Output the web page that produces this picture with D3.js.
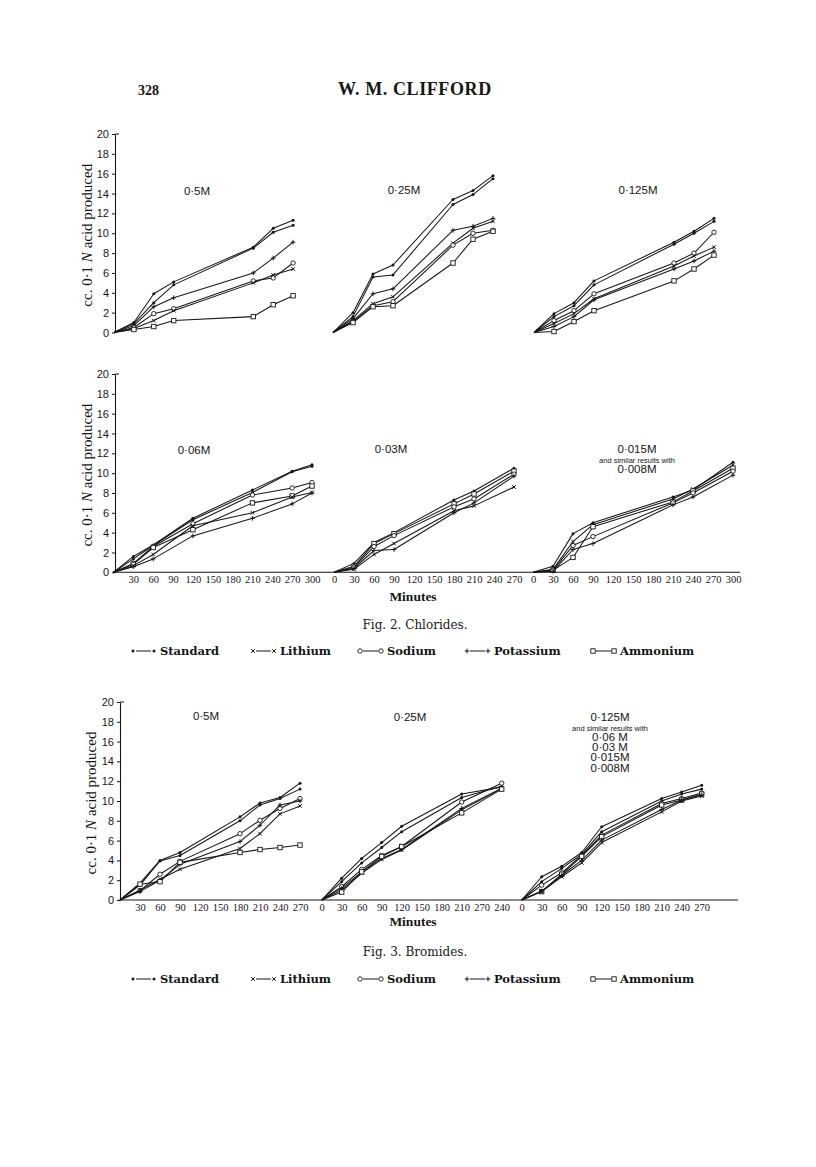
<!DOCTYPE html>
<html><head><meta charset="utf-8">
<script src="https://cdn.jsdelivr.net/npm/d3@7"></script>
<style>body{margin:0;background:#fff} svg{display:block}</style>
</head><body>
<svg id="c" width="816" height="1167"></svg>
<script>
// ---------- DATA ----------
const seriesTypes = ["Standard","Lithium","Sodium","Potassium","Ammonium"];
const yTicks = [0,2,4,6,8,10,12,14,16,18,20];

// Fig. 2 Chlorides, 0.5M
const cl05Slots = ["0","30","60","90","120","150","180","210","240","270"];
const cl05Times = [0,30,60,90,210,240,270];
const cl05Series = ["Standard","Standard","Potassium","Sodium","Lithium","Ammonium"];
const cl05Values = [
  [0,1.0,3.9,5.1,8.6,10.5,11.3],
  [0,0.9,3.0,4.8,8.5,10.1,10.8],
  [0,0.7,2.6,3.5,6.0,7.5,9.1],
  [0,0.5,1.9,2.4,5.2,5.5,7.0],
  [0,0.4,1.2,2.2,5.0,5.8,6.4],
  [0,0.3,0.6,1.2,1.6,2.8,3.7]
];
// Fig. 2 Chlorides, 0.25M
const cl025Slots = ["0","30","60","90","120","150","180","210","240"];
const cl025Times = [0,30,60,90,180,210,240];
const cl025Series = ["Standard","Standard","Potassium","Lithium","Sodium","Ammonium"];
const cl025Values = [
  [0,2.0,5.9,6.8,13.4,14.3,15.8],
  [0,1.6,5.6,5.8,12.9,13.9,15.5],
  [0,1.4,3.9,4.4,10.3,10.7,11.5],
  [0,1.2,2.9,3.6,9.0,10.5,11.2],
  [0,1.1,2.7,3.1,8.8,10.0,10.3],
  [0,1.0,2.6,2.7,7.0,9.4,10.2]
];
// Fig. 2 Chlorides, 0.125M
const cl0125Slots = ["0","30","60","90","120","150","180","210","240","270"];
const cl0125Times = [0,30,60,90,210,240,270];
const cl0125Series = ["Standard","Standard","Sodium","Lithium","Potassium","Ammonium"];
const cl0125Values = [
  [0,1.9,3.0,5.2,9.1,10.2,11.5],
  [0,1.6,2.7,4.8,8.9,10.0,11.2],
  [0,1.2,2.2,3.9,7.0,8.0,10.1],
  [0,0.9,1.9,3.4,6.7,7.7,8.6],
  [0,0.6,1.6,3.3,6.4,7.2,8.2],
  [0,0.1,1.1,2.2,5.2,6.4,7.8]
];
// Fig. 2 Chlorides, 0.06M
const cl006Slots = ["0","30","60","90","120","150","180","210","240","270","300"];
const cl006Ticks = ["30","60","90","120","150","180","210","240","270","300"];
const cl006Times = [0,30,60,120,210,270,300];
const cl006Series = ["Standard","Standard","Sodium","Ammonium","Lithium","Potassium"];
const cl006Values = [
  [0,1.6,2.75,5.45,8.3,10.2,10.85],
  [0,1.35,2.7,5.3,8.05,10.15,10.7],
  [0,0.9,2.6,4.9,7.8,8.5,9.05],
  [0,0.8,2.5,4.3,7.0,7.7,8.7],
  [0,0.67,1.8,4.7,6.0,7.6,8.05],
  [0,0.57,1.35,3.67,5.45,6.9,8.0]
];
// Fig. 2 Chlorides, 0.03M
const cl003Slots = ["0","30","60","90","120","150","180","210","240","270"];
const cl003Ticks = cl003Slots;
const cl003Times = [0,30,60,90,180,210,270];
const cl003Series = ["Standard","Ammonium","Sodium","Potassium","Lithium"];
const cl003Values = [
  [0,0.9,3.0,4.0,7.3,8.2,10.5],
  [0,0.6,2.9,3.9,6.9,7.9,10.2],
  [0,0.5,2.6,3.7,6.6,7.4,9.9],
  [0,0.4,2.2,2.3,6.0,7.0,9.7],
  [0,0.3,1.8,2.9,6.2,6.7,8.6]
];
// Fig. 2 Chlorides, 0.015M
const cl0015Slots = ["0","30","60","90","120","150","180","210","240","270","300"];
const cl0015Ticks = cl0015Slots;
const cl0015Times = [0,30,60,90,210,240,300];
const cl0015Series = ["Standard","Lithium","Ammonium","Sodium","Potassium"];
const cl0015Values = [
  [0,0.6,3.9,5.0,7.6,8.3,11.1],
  [0,0.3,3.1,4.8,7.4,8.4,10.8],
  [0,0.2,1.5,4.6,7.1,8.2,10.5],
  [0,0.2,2.7,3.6,7.0,8.0,10.2],
  [0,0.1,2.3,2.9,6.8,7.6,9.8]
];
// Fig. 3 Bromides, 0.5M
const br05Slots = ["0","30","60","90","120","150","180","210","240","270"];
const br05Ticks = ["30","60","90","120","150","180","210","240","270"];
const br05Times = [0,30,60,90,180,210,240,270];
const br05Series = ["Standard","Standard","Sodium","Potassium","Lithium","Ammonium"];
const br05Values = [
  [0,1.7,4.0,4.8,8.4,9.8,10.35,11.8],
  [0,1.5,3.95,4.5,8.0,9.6,10.25,11.2],
  [0,0.95,2.6,3.9,6.7,8.05,9.25,10.25],
  [0,0.85,2.0,3.6,5.9,7.55,9.6,10.0],
  [0,1.0,2.1,3.1,5.2,6.7,8.7,9.5],
  [0,1.6,1.85,3.8,4.8,5.1,5.3,5.55]
];
// Fig. 3 Bromides, 0.25M (axis printed as ... 210 270 240)
const br025Slots = ["0","30","60","90","120","150","180","210","270","240"];
const br025Ticks = br025Slots;
const br025Times = [0,30,60,90,120,210,240];
const br025Series = ["Standard","Standard","Sodium","Potassium","Lithium","Ammonium"];
const br025Values = [
  [0,2.2,4.2,5.8,7.45,10.7,11.4],
  [0,1.85,3.75,5.3,6.9,10.35,11.5],
  [0,1.35,3.1,4.5,5.4,9.9,11.8],
  [0,1.2,2.85,4.2,5.1,9.25,11.3],
  [0,1.0,2.7,4.1,5.05,9.1,11.25],
  [0,0.8,2.85,4.4,5.4,8.8,11.2]
];
// Fig. 3 Bromides, 0.125M
const br0125Slots = ["0","30","60","90","120","150","180","210","240","270"];
const br0125Ticks = br0125Slots;
const br0125Times = [0,30,60,90,120,210,240,270];
const br0125Series = ["Standard","Standard","Sodium","Ammonium","Potassium","Lithium"];
const br0125Values = [
  [0,2.35,3.4,4.8,7.4,10.25,10.9,11.6],
  [0,1.85,3.2,4.6,6.9,10.0,10.7,11.2],
  [0,1.5,2.75,4.5,6.55,9.75,10.25,10.8],
  [0,0.85,2.6,4.4,6.4,9.6,10.1,10.7],
  [0,0.9,2.5,4.0,6.05,9.15,10.1,10.6],
  [0,0.85,2.35,3.75,5.8,8.9,10.0,10.5]
];

// Titles
const cl05Title = ["0·5M"];
const cl025Title = ["0·25M"];
const cl0125Title = ["0·125M"];
const cl006Title = ["0·06M"];
const cl003Title = ["0·03M"];
const cl0015Title = ["0·015M","and similar results with","0·008M"];
const br05Title = ["0·5M"];
const br025Title = ["0·25M"];
const br0125Title = ["0·125M","and similar results with","0·06 M","0·03 M","0·015M","0·008M"];
const legendLabels = ["Standard","Lithium","Sodium","Potassium","Ammonium"];

// ---------- LAYOUT ----------
const INK = "#161616";
const SERIF = "'Liberation Serif','DejaVu Serif',serif";
const WIDESERIF = "'DejaVu Serif','Liberation Serif',serif";
const SANS = "'Liberation Sans','DejaVu Sans',sans-serif";
const svg = d3.select("#c");

const rows = [
  {axisX:115, y0:332.5, y1:134, xAxis:false, lineEnd:740, labelX:92},
  {axisX:115, y0:572.3, y1:374, xAxis:true, lineEnd:740, labelX:92, minutesY:601},
  {axisX:120, y0:900, y1:702, xAxis:true, lineEnd:738, labelX:96, minutesY:926}
];

const panels = [
  {row:0, slots:cl05Slots, ticks:null, times:cl05Times, series:cl05Series, values:cl05Values, x0:114, step:19.9, title:cl05Title, tx:197, ty:195},
  {row:0, slots:cl025Slots, ticks:null, times:cl025Times, series:cl025Series, values:cl025Values, x0:333, step:20, title:cl025Title, tx:404, ty:194},
  {row:0, slots:cl0125Slots, ticks:null, times:cl0125Times, series:cl0125Series, values:cl0125Values, x0:534, step:20, title:cl0125Title, tx:638, ty:194},
  {row:1, slots:cl006Slots, ticks:cl006Ticks, times:cl006Times, series:cl006Series, values:cl006Values, x0:113.5, step:19.85, title:cl006Title, tx:194, ty:454},
  {row:1, slots:cl003Slots, ticks:cl003Ticks, times:cl003Times, series:cl003Series, values:cl003Values, x0:334, step:20, title:cl003Title, tx:391, ty:453},
  {row:1, slots:cl0015Slots, ticks:cl0015Ticks, times:cl0015Times, series:cl0015Series, values:cl0015Values, x0:533, step:20, title:cl0015Title, tx:637, ty:453},
  {row:2, slots:br05Slots, ticks:br05Ticks, times:br05Times, series:br05Series, values:br05Values, x0:120, step:20, title:br05Title, tx:206, ty:720},
  {row:2, slots:br025Slots, ticks:br025Ticks, times:br025Times, series:br025Series, values:br025Values, x0:321.7, step:20, title:br025Title, tx:410, ty:721},
  {row:2, slots:br0125Slots, ticks:br0125Ticks, times:br0125Times, series:br0125Series, values:br0125Values, x0:521.7, step:20, title:br0125Title, tx:610, ty:721}
];

function drawMarker(g, type, cx, cy) {
  const s = 2.3;
  if (type === "Standard") {
    g.append("circle").attr("cx", cx).attr("cy", cy).attr("r", 1.5).attr("fill", INK);
  } else if (type === "Sodium") {
    g.append("circle").attr("cx", cx).attr("cy", cy).attr("r", 2.2).attr("fill", "#fff").attr("stroke", INK).attr("stroke-width", 0.9);
  } else if (type === "Ammonium") {
    g.append("rect").attr("x", cx - 2.2).attr("y", cy - 2.2).attr("width", 4.4).attr("height", 4.4).attr("fill", "#fff").attr("stroke", INK).attr("stroke-width", 0.9);
  } else if (type === "Potassium") {
    g.append("path").attr("d", `M${cx - s},${cy}H${cx + s}M${cx},${cy - s}V${cy + s}`).attr("stroke", INK).attr("stroke-width", 1);
  } else if (type === "Lithium") {
    const t = s * 0.8;
    g.append("path").attr("d", `M${cx - t},${cy - t}L${cx + t},${cy + t}M${cx - t},${cy + t}L${cx + t},${cy - t}`).attr("stroke", INK).attr("stroke-width", 1);
  }
}

rows.forEach((r, i) => {
  const y = d3.scaleLinear().domain([0, 20]).range([r.y0, r.y1]);
  const g = svg.append("g").attr("transform", `translate(${r.axisX},0)`);
  g.call(d3.axisLeft(y).tickValues(yTicks).tickSize(3).tickSizeOuter(0).tickPadding(3));
  g.select(".domain").attr("stroke", INK).attr("stroke-width", 1.1);
  g.selectAll(".tick line").attr("stroke", INK).attr("stroke-width", 1);
  g.selectAll(".tick text").attr("font-family", SANS).attr("font-size", 11).attr("fill", INK);
  g.append("line").attr("x1", 0).attr("x2", 4).attr("y1", y(20)).attr("y2", y(20)).attr("stroke", INK).attr("stroke-width", 1);

  const lab = svg.append("text")
    .attr("transform", `translate(${r.labelX},${(r.y0 + r.y1) / 2 + 2}) rotate(-90)`)
    .attr("text-anchor", "middle").attr("font-family", SERIF).attr("font-size", 15).attr("fill", INK);
  lab.append("tspan").text("cc. 0·1 ");
  lab.append("tspan").attr("font-style", "italic").text("N");
  lab.append("tspan").text(" acid produced");

  if (r.xAxis) {
    svg.append("line").attr("x1", r.axisX).attr("x2", r.lineEnd).attr("y1", r.y0).attr("y2", r.y0)
      .attr("stroke", INK).attr("stroke-width", 1.1);
    svg.append("text").attr("x", 413).attr("y", r.minutesY).attr("text-anchor", "middle")
      .attr("font-family", SERIF).attr("font-weight", "bold").attr("font-size", 13.5).attr("fill", INK).text("Minutes");
  }
});

panels.forEach(p => {
  const r = rows[p.row];
  const x = d3.scalePoint().domain(p.slots).range([p.x0, p.x0 + p.step * (p.slots.length - 1)]);
  const y = d3.scaleLinear().domain([0, 20]).range([r.y0, r.y1]);
  const g = svg.append("g");

  if (p.ticks) {
    const ax = g.append("g").attr("transform", `translate(0,${r.y0})`)
      .call(d3.axisBottom(x).tickValues(p.ticks).tickSize(0).tickPadding(3.5));
    ax.select(".domain").remove();
    ax.selectAll(".tick text").attr("font-family", SERIF).attr("font-size", 10.5).attr("fill", INK);
  }

  const line = d3.line().x(d => x(String(d.t))).y(d => y(d.v));
  p.values.forEach((vals, i) => {
    const pts = p.times.map((t, j) => ({ t, v: vals[j] }));
    g.append("path").datum(pts).attr("d", line).attr("fill", "none")
      .attr("stroke", INK).attr("stroke-width", 1.05).attr("stroke-linejoin", "round");
    const mg = g.append("g");
    pts.forEach(d => { if (d.t > 0) drawMarker(mg, p.series[i], x(String(d.t)), y(d.v)); });
  });

  p.title.forEach((t, k) => {
    const small = t.startsWith("and");
    let yy = p.ty;
    if (k > 0) yy = p.ty + (k === 1 ? 9.5 : 9.5 + (k - 1) * 10.3);
    g.append("text").attr("x", p.tx).attr("y", yy).attr("text-anchor", "middle")
      .attr("font-family", SANS).attr("font-size", small ? 7.5 : 11.5).attr("fill", INK).text(t);
  });
});

svg.append("text").attr("x", 138).attr("y", 95).attr("font-family", SERIF).attr("font-weight", "bold")
  .attr("font-size", 14).attr("fill", INK).text("328");
svg.append("text").attr("x", 338).attr("y", 95).attr("font-family", SERIF).attr("font-weight", "bold")
  .attr("font-size", 18).attr("letter-spacing", 0.6).attr("fill", INK).text("W. M. CLIFFORD");

function legend(yBase, caption, capY) {
  svg.append("text").attr("x", 415).attr("y", capY).attr("text-anchor", "middle")
    .attr("font-family", WIDESERIF).attr("font-size", 12).attr("fill", INK).text(caption);
  const starts = [131, 251, 358, 465, 591];
  const lg = svg.append("g");
  legendLabels.forEach((lab, i) => {
    const x0 = starts[i];
    const cy = yBase - 4;
    lg.append("line").attr("x1", x0 + 5).attr("x2", x0 + 20).attr("y1", cy).attr("y2", cy).attr("stroke", INK).attr("stroke-width", 1);
    drawMarker(lg, lab, x0 + 2, cy);
    drawMarker(lg, lab, x0 + 23, cy);
    lg.append("text").attr("x", x0 + 29).attr("y", yBase).attr("font-family", WIDESERIF).attr("font-weight", "bold").attr("font-size", 11.5)
      .attr("fill", INK).text(lab);
  });
}
legend(655, "Fig. 2.  Chlorides.", 629);
legend(983, "Fig. 3.  Bromides.", 956);
</script>
</body></html>
